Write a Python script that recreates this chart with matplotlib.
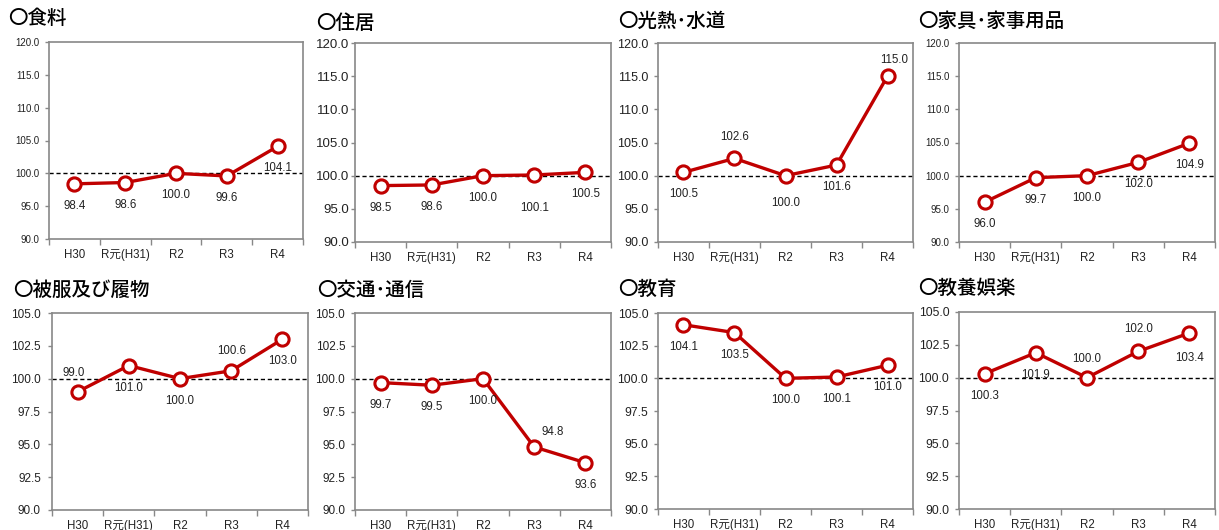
import matplotlib
matplotlib.use("Agg")
import matplotlib.pyplot as plt
import numpy as np

plt.rcParams['font.family'] = ['Liberation Sans', 'Noto Sans CJK JP', 'DejaVu Sans']

categories = ["H30", "R元(H31)", "R2", "R3", "R4"]

titles = ["〇食料", "〇住居", "〇光熱･水道", "〇家具･家事用品",
          "〇被服及び履物", "〇交通･通信", "〇教育", "〇教養娯楽"]

food = [98.4, 98.6, 100.0, 99.6, 104.1]
housing = [98.5, 98.6, 100.0, 100.1, 100.5]
utilities = [100.5, 102.6, 100.0, 101.6, 115.0]
furniture = [96.0, 99.7, 100.0, 102.0, 104.9]
clothing = [99.0, 101.0, 100.0, 100.6, 103.0]
transport = [99.7, 99.5, 100.0, 94.8, 93.6]
education = [104.1, 103.5, 100.0, 100.1, 101.0]
recreation = [100.3, 101.9, 100.0, 102.0, 103.4]

series = [food, housing, utilities, furniture, clothing, transport, education, recreation]

# --- layout (pixels) ---
W, H = 1219, 530
DPI = 100
# left, top, right, bottom
rects = [(49, 42, 303, 239), (355, 43, 611, 242), (658, 43, 913, 242), (959, 43, 1215, 242),
         (52, 313, 308, 510), (355, 313, 611, 510), (658, 313, 913, 509), (959, 312, 1215, 509)]
title_pos = [(8, 18), (316, 23), (618, 21), (918, 21),
             (13, 290), (317, 290), (618, 289), (918, 288)]
ytick_size = [7, 9.5, 9, 7, 8.5, 8.5, 8.8, 8.8]
ytick_pad = [4, 1, 4, 4, 5, 4, 4, 4]
# label offsets in pixels (dx, dy) - dy positive = below marker
default_off = (0, 22)
label_off = {
    (1, 3): (0, 33),
    (2, 1): (0, -21), (2, 2): (0, 27), (2, 4): (7, -16),
    (4, 0): (-4, -19), (4, 3): (0, -20),
    (5, 3): (18, -15),
    (7, 2): (0, -19), (7, 3): (0, -22), (7, 4): (0, 25),
}

red = "#C00000"
spine_col = "#888888"

fig = plt.figure(figsize=(W / DPI, H / DPI), dpi=DPI)
x = np.arange(len(categories))

for i, vals in enumerate(series):
    l, t, r, b = rects[i]
    ax = fig.add_axes([l / W, 1 - b / H, (r - l) / W, (b - t) / H])
    if i < 4:
        ax.set_ylim(90, 120)
        ax.set_yticks(np.arange(90, 120.1, 5))
    else:
        ax.set_ylim(90, 105)
        ax.set_yticks(np.arange(90, 105.1, 2.5))
    ax.yaxis.set_major_formatter(matplotlib.ticker.FormatStrFormatter("%.1f"))
    ax.set_xlim(-0.5, len(categories) - 0.5)

    ax.axhline(100, color="black", lw=1.0, ls=(0, (3, 2)), zorder=1)
    ax.plot(x, vals, color=red, lw=2.4, marker="o", markersize=9.5,
            markerfacecolor="white", markeredgecolor=red, markeredgewidth=2.2,
            zorder=3, clip_on=False)

    for j, v in enumerate(vals):
        dx, dy = label_off.get((i, j), default_off)
        ax.annotate(f"{v:.1f}", (x[j], v), xytext=(dx * 72 / DPI, -dy * 72 / DPI),
                    textcoords="offset points", ha="center", va="center",
                    fontsize=8.3, color="#222222", zorder=4)

    ax.set_xticks(x)
    ax.set_xticklabels(categories)
    ax.set_xticks(np.arange(-0.5, len(categories), 1.0), minor=True)
    ax.tick_params(axis="x", which="major", length=0, pad=7, labelsize=8.3, colors="#222222")
    ax.tick_params(axis="x", which="minor", length=4, width=1, color=spine_col, direction="out")
    ax.tick_params(axis="y", length=3, width=1, color=spine_col, pad=ytick_pad[i],
                   labelsize=ytick_size[i], labelcolor="#222222")
    for s in ax.spines.values():
        s.set_color(spine_col)
        s.set_linewidth(1.2)

    tx, ty = title_pos[i]
    fig.text(tx / W, 1 - ty / H, titles[i], fontsize=14, fontweight="medium",
             family=["Noto Sans CJK JP", "DejaVu Sans"], ha="left", va="center")

fig.savefig("out.png", dpi=DPI)
